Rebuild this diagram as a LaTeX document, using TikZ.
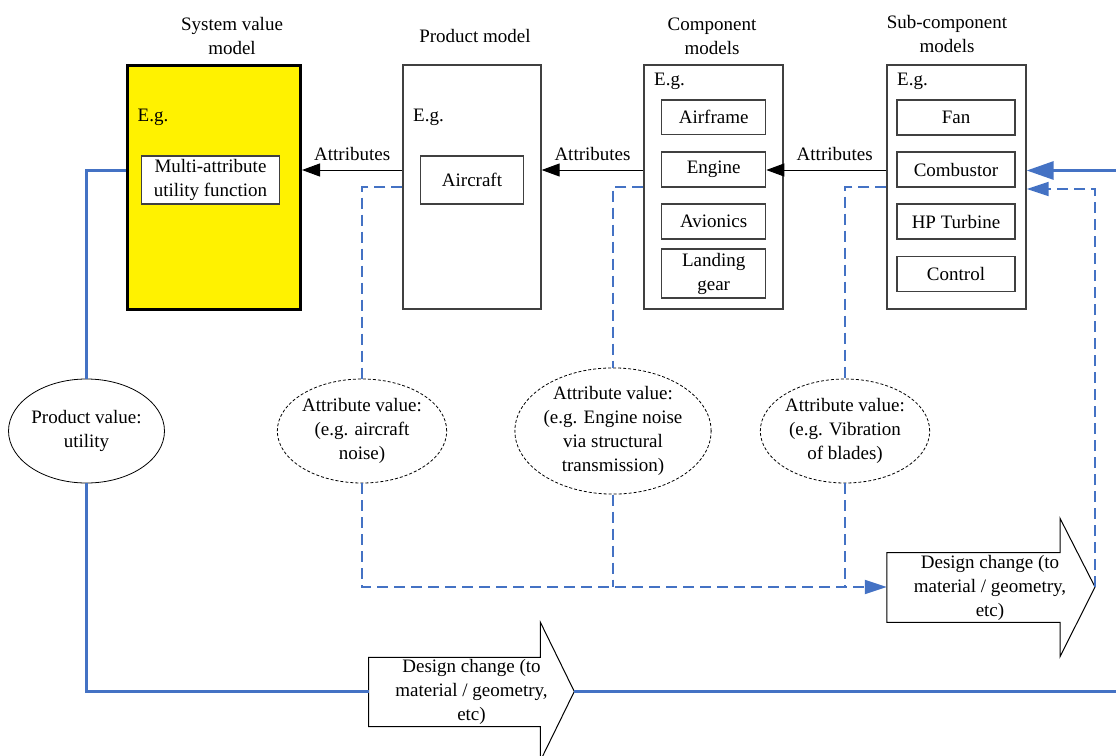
\documentclass[tikz,border=0pt]{standalone}
\usepackage{fontspec}
\setmainfont{Liberation Serif}
\usetikzlibrary{arrows.meta,shapes.geometric}
\definecolor{lineblue}{HTML}{4472C4}
\definecolor{boxgray}{HTML}{404040}
\begin{document}
\begin{tikzpicture}[x=1pt,y=-1pt,
 every node/.style={font=\fontsize{19}{24}\selectfont},
 model/.style={draw=boxgray,line width=1.3pt,minimum width=#1,minimum height=244pt,inner sep=0pt},
 inbox/.style={draw=boxgray,line width=1.2pt,minimum width=#1,inner sep=0pt,align=center},
 lbl/.style={inner sep=0pt,align=center},
 attrarrow/.style={draw=black,line width=1pt,-{Triangle[length=18pt,width=13pt]}},
 bluesolid/.style={draw=lineblue,line width=3pt},
 bluedash/.style={draw=lineblue,line width=2pt,dash pattern=on 11pt off 6pt},
 valell/.style={ellipse,draw=black,line width=0.8pt,inner sep=0pt,minimum height=104pt,minimum width=#1,align=center},
 dashell/.style={valell=#1,dash pattern=on 3pt off 2pt},
 bigarrow/.style={draw=black,line width=1pt,fill=white,line join=miter}
]
\useasboundingbox (0,0) rectangle (1116,755);

% titles
\node[lbl] (t1) at (232,36) {System value\\model};
\node[lbl] (t2) at (475,36) {Product model};
\node[lbl] (t3) at (712,36) {Component\\models};
\node[lbl] (t4) at (947,34) {Sub-component\\models};

% model boxes
\node[model=173pt,fill=yellow,draw=black,line width=3pt] (sys) at (214,187) {};
\node[model=138pt] (prod) at (472,187) {};
\node[model=139pt] (comp) at (713.5,187) {};
\node[model=139pt] (sub) at (956.5,187) {};

\node[lbl,anchor=west] (eg1) at (137.5,117) {E.g.};
\node[lbl,anchor=west] (eg2) at (413,117) {E.g.};
\node[lbl,anchor=west] (eg3) at (654,81) {E.g.};
\node[lbl,anchor=west] (eg4) at (897,81) {E.g.};

% inner boxes
\node[inbox=137.5pt,minimum height=48pt,fill=white] (mauf) at (210.5,180) {Multi-attribute\\utility function};
\node[inbox=103.6pt,minimum height=48pt] (aircraft) at (472,180) {Aircraft};

\node[inbox=104pt,minimum height=34.7pt] (airframe) at (713.7,117.3) {Airframe};
\node[inbox=104pt,minimum height=35pt] (engine) at (713.7,169.5) {Engine};
\node[inbox=104pt,minimum height=35pt] (avionics) at (713.7,221.5) {Avionics};
\node[inbox=104pt,minimum height=49pt] (landing) at (713.7,273.5) {Landing\\gear};

\node[inbox=118pt,minimum height=35pt] (fan) at (956,117.5) {Fan};
\node[inbox=118pt,minimum height=35pt] (comb) at (956,169.5) {Combustor};
\node[inbox=118pt,minimum height=35pt] (hpt) at (956,221.5) {HP Turbine};
\node[inbox=118pt,minimum height=34.5pt] (ctrl) at (956,274) {Control};

% ellipses
\node[valell=152pt] (pv) at (86.5,431) {Product value:\\utility};
\node[dashell=152pt] (av1) at (362,431) {Attribute value:\\(e.g. aircraft\\noise)};
\node[dashell=174pt] (av2) at (613,431) {Attribute value:\\(e.g. Engine noise\\via structural\\transmission)};
\node[dashell=153pt] (av3) at (845,431) {Attribute value:\\(e.g. Vibration\\of blades)};

% big design-change arrows
\draw[bigarrow] (886.8,552.7) -- (1060,552.7) -- (1060,518.3) -- (1095,587) -- (1060,656.7) -- (1060,622.3) -- (886.8,622.3) -- cycle;
\draw[bigarrow] (368.6,657.3) -- (540.4,657.3) -- (540.4,622.3) -- (574.3,691.5) -- (540.4,760.7) -- (540.4,726.7) -- (368.6,726.7) -- cycle;
\coordinate (dc1left) at (886.8,587);
\coordinate (dc1tip) at (1095,587);
\coordinate (dc2left) at (368.6,691.5);
\coordinate (dc2tip) at (574.3,691.5);
\node[lbl] (dc1) at (990,588) {Design change (to\\material / geometry,\\etc)};
\node[lbl] (dc2) at (471.5,692) {Design change (to\\material / geometry,\\etc)};

% helper coordinates
\coordinate (ay) at (0,170);
\coordinate (by) at (0,170.5);
\coordinate (dy2) at (0,189);
\coordinate (rightin) at (1117,170.5);
\coordinate (rightout) at (1117,691.5);

% attribute arrows
\draw[attrarrow] (prod.west |- ay) -- node[lbl,above=9pt] {Attributes} (sys.east |- ay);
\draw[attrarrow] (comp.west |- ay) -- node[lbl,above=9pt] {Attributes} (prod.east |- ay);
\draw[attrarrow] (sub.west |- ay) -- node[lbl,above=9pt,pos=0.43] {Attributes} (engine.east |- ay);

% blue solid loop
\draw[bluesolid] (sys.west |- by) -| (pv.north);
\draw[bluesolid] (pv.south) |- (dc2left);
\draw[bluesolid] (dc2tip) -- (rightout);
\draw[bluesolid,-{Triangle[length=27pt,width=18pt]}] (rightin) -- (sub.east |- by);

% blue dashed
\draw[bluedash] (prod.west) -| (av1.north);
\draw[bluedash] (comp.west) -| (av2.north);
\draw[bluedash] (sub.west) -| (av3.north);
\draw[bluedash,-{Triangle[length=22pt,width=14pt]}] (av1.south) |- (dc1left);
\draw[bluedash] (av2.south) -- (av2.south |- dc1left);
\draw[bluedash] (av3.south) -- (av3.south |- dc1left);
\draw[bluedash,-{Triangle[length=22pt,width=14pt]}] (dc1tip) |- (sub.east |- dy2);
\end{tikzpicture}
\end{document}
